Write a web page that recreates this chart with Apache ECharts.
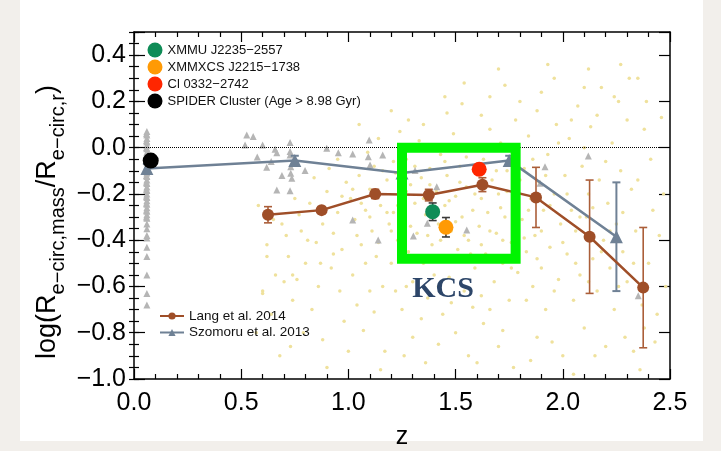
<!DOCTYPE html>
<html>
<head>
<meta charset="utf-8">
<script src="https://cdn.jsdelivr.net/npm/echarts@6/dist/echarts.min.js"></script>
<style>
  html, body { margin: 0; padding: 0; background: #f2efeb; }
  #wrap { position: relative; width: 721px; height: 451px; background: #f2efeb; }
  #panel { position: absolute; left: 20px; top: 0; width: 683px; height: 441px; background: #fff; }
  #chart { position: absolute; left: 0; top: 0; width: 721px; height: 451px; }
</style>
</head>
<body>
<div id="wrap"><div id="panel"></div><div id="chart"></div></div>
<script>
// Lang et al. 2014 (binned medians with errors)
const langZ   = [0.625, 0.875, 1.125, 1.375, 1.625, 1.875, 2.125, 2.375];
const langV   = [-0.29, -0.27, -0.20, -0.205, -0.16, -0.215, -0.385, -0.605];
const langErr = [0.035, 0.015, 0.02, 0.025, 0.03, 0.13, 0.245, 0.26];

// Szomoru et al. 2013
const szoZ   = [0.06, 0.75, 1.25, 1.75, 2.25];
const szoV   = [-0.09, -0.055, -0.11, -0.055, -0.385];
const szoErr = [0.02, 0.02, 0.02, 0.02, 0.235];

// Individual clusters
const clusterNames = ['XMMU J2235\u22122557', 'XMMXCS J2215\u22121738', 'Cl 0332\u22122742', 'SPIDER Cluster (Age > 8.98 Gyr)'];
const clusterZ     = [1.393, 1.455, 1.61, 0.078];
const clusterV     = [-0.277, -0.344, -0.093, -0.056];
const clusterErr   = [0.038, 0.042, 0, 0];
const clusterColors = ['#0f8c57', '#ff9a05', '#ff2600', '#000000'];

// KCS region
const kcsZ = [1.25, 1.78];
const kcsV = [-0.48, 0.0];

// Axis ticks
const xTicks = [0.0, 0.5, 1.0, 1.5, 2.0, 2.5];
const yTicks = [-1.0, -0.8, -0.6, -0.4, -0.2, 0.0, 0.2, 0.4];

// Individual galaxies (grey triangles)
const galaxyZ = [
  0.06,0.06,0.06,0.06,0.06,0.06,0.06,0.06,0.06,0.06,0.06,0.06,0.06,0.06,0.06,0.06,0.06,0.06,
  0.06,0.06,0.06,0.06,0.06,0.06,0.06,0.06,0.06,0.06,0.06,0.06,0.06,0.06,0.06,0.06,0.06,
  0.058,0.058,0.058,0.058,0.058,0.058,0.058,0.058,0.058,0.058,0.058,0.058,0.058,
  0.526,0.556,0.518,0.600,0.658,0.666,0.619,0.666,0.728,0.728,0.728,0.731,0.731,0.736,0.728,
  0.798,0.899,0.953,1.097,1.020,1.093,1.160,1.101,1.311,1.020,1.139,1.303,1.552,1.368,1.412,
  1.917,2.119,2.352,1.894,0.575,0.69,0.64
];
const galaxyV = [
  0.07,0.055,0.04,0.025,0.01,-0.005,-0.02,-0.035,-0.05,-0.065,-0.08,-0.095,-0.11,-0.125,-0.14,-0.155,-0.17,-0.185,
  -0.2,-0.215,-0.23,-0.245,-0.26,-0.275,-0.29,-0.305,-0.33,-0.35,-0.38,-0.39,-0.43,-0.47,-0.55,-0.63,-0.68,
  0.06,0.03,0.0,-0.03,-0.06,-0.09,-0.12,-0.15,-0.18,-0.21,-0.24,-0.27,-0.3,
  0.055,0.048,0.012,0.012,-0.007,-0.022,-0.085,-0.183,0.022,-0.017,-0.032,-0.082,-0.111,-0.132,-0.186,
  -0.099,-0.003,-0.022,0.033,-0.027,-0.039,-0.032,-0.075,-0.099,-0.313,-0.399,-0.382,-0.356,-0.327,-0.169,
  -0.082,-0.036,-0.640,-0.154,-0.04,-0.12,-0.06
];

// Background galaxy sample (pale dots)
const fieldPts = [
  [0.58,-0.25],[0.62,-0.42],[0.66,-0.55],[0.6,-0.62],[0.69,-0.33],[0.72,-0.47],[0.75,-0.22],[0.7,-0.58],[0.78,-0.36],[0.74,-0.66],[0.8,-0.5],[0.77,-0.29],[0.64,-0.72],[0.79,-0.8],[0.68,-0.9],
  [0.82,-0.24],[0.85,-0.41],[0.88,-0.33],[0.9,-0.19],[0.92,-0.52],[0.86,-0.6],[0.95,-0.28],[0.97,-0.44],[0.83,-0.7],[0.93,-0.37],[0.99,-0.15],[0.91,-0.09],[0.96,-0.62],[0.88,-0.83],[0.98,-0.75],[0.84,-0.13],
  [1.01,-0.22],[1.03,-0.31],[1.05,-0.12],[1.06,-0.42],[1.08,-0.27],[1.02,-0.55],[1.1,-0.18],[1.11,-0.36],[1.12,-0.08],[1.13,-0.47],[1.15,-0.25],[1.16,-0.6],[1.18,-0.14],[1.19,-0.33],[1.04,-0.68],[1.09,-0.02],[1.14,0.04],[1.07,-0.79],[1.17,-0.88],[1.2,-0.5],[1.12,-0.71],[1.05,0.1],
  [1.21,-0.28],[1.22,-0.11],[1.23,-0.4],[1.24,-0.2],[1.26,-0.31],[1.27,-0.05],[1.28,-0.45],[1.29,-0.16],[1.3,-0.58],[1.31,-0.24],[1.32,-0.37],[1.33,0.03],[1.34,-0.13],[1.35,-0.5],[1.36,-0.29],[1.37,-0.65],[1.38,-0.09],[1.39,-0.42],[1.25,-0.7],[1.3,-0.82],[1.36,-0.93],[1.24,0.07],[1.28,0.12],[1.22,-0.62],[1.34,-0.74],
  [1.41,-0.19],[1.42,-0.33],[1.43,-0.03],[1.44,-0.47],[1.45,-0.25],[1.46,-0.12],[1.47,-0.56],[1.48,-0.36],[1.49,0.06],[1.5,-0.21],[1.51,-0.44],[1.52,-0.08],[1.53,-0.3],[1.54,-0.62],[1.55,-0.17],[1.56,-0.4],[1.57,0.01],[1.58,-0.27],[1.59,-0.52],[1.44,-0.72],[1.5,-0.8],[1.56,-0.9],[1.46,0.15],[1.53,0.19],[1.58,-0.69],[1.42,-0.6],
  [1.61,-0.34],[1.62,-0.22],[1.63,-0.05],[1.64,-0.46],[1.65,-0.28],[1.66,0.08],[1.67,-0.14],[1.68,-0.58],[1.69,-0.37],[1.7,-0.2],[1.71,0.02],[1.72,-0.5],[1.73,-0.3],[1.74,-0.1],[1.75,-0.66],[1.76,-0.41],[1.77,-0.24],[1.78,0.12],[1.79,-0.54],[1.63,-0.76],[1.7,-0.86],[1.77,-0.95],[1.66,0.22],[1.73,0.27],[1.62,-0.64],
  [1.81,-0.31],[1.82,-0.09],[1.83,-0.45],[1.84,0.05],[1.85,-0.22],[1.86,-0.6],[1.87,-0.38],[1.88,0.16],[1.89,-0.15],[1.9,-0.52],[1.91,-0.27],[1.92,-0.7],[1.93,-0.03],[1.94,-0.43],[1.95,-0.84],[1.96,-0.2],[1.97,0.1],[1.98,-0.57],[1.99,-0.33],[1.85,-0.92],[1.9,0.24],[1.96,0.3],
  [2.01,-0.12],[2.02,-0.46],[2.03,0.04],[2.04,-0.27],[2.05,-0.66],[2.06,-0.36],[2.07,0.18],[2.08,-0.55],[2.09,-0.08],[2.1,-0.78],[2.11,-0.3],[2.12,-0.2],[2.13,0.09],[2.14,-0.48],[2.15,-0.9],[2.16,-0.62],[2.17,-0.14],[2.18,0.26],[2.19,-0.4],[2.05,-0.98],[2.12,0.34],
  [2.21,-0.24],[2.22,-0.52],[2.23,0.02],[2.24,-0.7],[2.25,-0.33],[2.26,0.2],[2.27,-0.1],[2.28,-0.45],[2.29,-0.82],[2.3,-0.58],[2.31,0.3],[2.32,-0.18],[2.34,-0.36],[2.36,-0.96],[2.38,0.08],[2.4,-0.5],[2.42,-0.27],[2.44,-0.72],[2.46,0.13],[2.48,-0.6],[2.33,-0.88],[2.27,0.36],[2.41,-0.05],[2.45,-0.38],
  [1.02,-0.18],[1.04,-0.38],[1.06,-0.24],[1.08,-0.5],[1.1,-0.3],[1.12,-0.2],[1.14,-0.41],[1.16,-0.1],[1.18,-0.28],[1.2,-0.36],[1.21,-0.06],[1.23,-0.25],[1.25,-0.43],[1.27,-0.19],[1.29,-0.34],[1.31,-0.08],[1.33,-0.47],[1.35,-0.22],[1.37,-0.38],[1.38,-0.16],
  [1.4,-0.55],[1.41,-0.29],[1.43,-0.4],[1.45,-0.06],[1.47,-0.23],[1.48,-0.49],[1.5,-0.32],[1.52,-0.15],[1.54,-0.38],[1.55,-0.04],[1.57,-0.46],[1.59,-0.2],[1.6,-0.11],[1.62,-0.42],[1.64,-0.17],[1.66,-0.36],[1.67,-0.48],[1.69,-0.1],[1.71,-0.26],[1.72,-0.4],
  [1.74,-0.19],[1.76,-0.52],[1.78,-0.34],[1.8,-0.14],[1.82,-0.39],[1.84,-0.27],[1.86,-0.05],[1.88,-0.48],[1.9,-0.36],[1.92,-0.12],[1.94,-0.25],[1.96,-0.62],[1.98,0.02],[2.0,-0.41],[2.02,-0.2],[2.04,0.12],[2.06,-0.5],[2.08,-0.3],[2.1,0.0],[2.12,-0.58],
  [2.14,-0.26],[2.16,0.14],[2.18,-0.45],[2.2,-0.06],[2.22,-0.36],[2.24,0.22],[2.26,-0.6],[2.28,-0.28],[2.3,0.12],[2.33,-0.5],[2.35,-0.14],[2.37,-0.68],[2.39,0.2],[2.43,-0.84],[2.47,-0.2],
  [0.95,-0.05],[0.97,-0.21],[0.93,-0.46],[0.89,-0.27],[0.87,-0.5],[0.81,-0.4],[0.76,-0.57],[0.71,-0.38],[0.65,-0.31],[0.62,-0.47],[0.74,-0.55],[0.6,-0.63],[0.57,-0.8],[0.73,-0.86],[0.9,-0.95],
  [1.0,-0.88],[1.15,-0.96],[1.26,-0.9],[1.42,-0.85],[1.6,-0.93],[1.72,-0.79],[1.88,-0.82],[2.0,-0.9],[2.2,-0.86],[2.38,-0.78],[1.48,-0.67],[1.66,-0.7],[1.83,-0.66],[1.27,-0.6],[1.1,-0.62],
  [1.54,0.28],[1.62,0.14],[1.8,0.2],[1.7,0.34],[1.45,0.22],[1.35,0.1],[1.2,0.16],[2.35,0.3],[2.1,0.26],[1.93,0.36]
];

const FONT = '"Liberation Sans", Arial, Helvetica, sans-serif';
const langColor = '#9f4e28';
const szoColor = '#6f8195';
const boxColor = '#00f400';

function errorBars(color, cap, width) {
  return function (params, api) {
    const z = api.value(0), lo = api.value(1), hi = api.value(2);
    const a = api.coord([z, hi]), b = api.coord([z, lo]);
    const h = cap / 2;
    const style = { stroke: color, lineWidth: width, fill: null };
    return {
      type: 'group',
      children: [
        { type: 'line', shape: { x1: a[0], y1: a[1], x2: b[0], y2: b[1] }, style },
        { type: 'line', shape: { x1: a[0] - h, y1: a[1], x2: a[0] + h, y2: a[1] }, style },
        { type: 'line', shape: { x1: b[0] - h, y1: b[1], x2: b[0] + h, y2: b[1] }, style }
      ]
    };
  };
}

const zip = (xs, ys) => xs.map((x, i) => [x, ys[i]]);
const errData = (xs, ys, es) => xs.map((x, i) => [x, ys[i] - es[i], ys[i] + es[i]]);
const fmt = v => v.toFixed(1).replace('-', '\u2212');

const baseX = {
  type: 'value', min: 0, max: 2.5, interval: 0.5,
  axisLine: { show: true, onZero: false, lineStyle: { color: '#000', width: 1.5 } },
  axisTick: { show: true, inside: true, length: 10, lineStyle: { color: '#000', width: 1.2 } },
  minorTick: { show: true, splitNumber: 5, length: 5, lineStyle: { color: '#000', width: 1.2 } },
  splitLine: { show: false }, minorSplitLine: { show: false }
};
const baseY = {
  type: 'value', min: -1.0, max: 0.5, interval: 0.2,
  axisLine: { show: true, onZero: false, lineStyle: { color: '#000', width: 1.5 } },
  axisTick: { show: true, inside: true, length: 11, lineStyle: { color: '#000', width: 1.2 } },
  splitLine: { show: false }
};
const minorY = {
  type: 'value', min: -1.0, max: 0.5, interval: 0.05,
  axisLine: { show: false },
  axisTick: { show: true, inside: true, length: 5, lineStyle: { color: '#000', width: 1.2 } },
  axisLabel: { show: false }, splitLine: { show: false }
};

const chart = echarts.init(document.getElementById('chart'), null, { renderer: 'canvas' });
chart.setOption({
  animation: false,
  backgroundColor: 'transparent',
  grid: { left: 134, right: 51, top: 32, bottom: 72, containLabel: false, outerBoundsMode: 'none' },
  xAxis: [
    Object.assign({}, baseX, {
      position: 'bottom',
      axisLabel: { show: true, margin: 12, fontSize: 25, color: '#000', fontFamily: FONT,
                   formatter: v => xTicks.some(t => Math.abs(t - v) < 1e-6) ? fmt(v) : '' },
      name: 'z', nameLocation: 'middle', nameGap: 46,
      nameTextStyle: { fontSize: 25, color: '#000', fontFamily: FONT }
    }),
    Object.assign({}, baseX, { position: 'top', axisLabel: { show: false } })
  ],
  yAxis: [
    Object.assign({}, baseY, {
      position: 'left',
      axisLabel: { show: true, margin: 8, fontSize: 25, color: '#000', fontFamily: FONT,
                   formatter: v => yTicks.some(t => Math.abs(t - v) < 1e-6) ? fmt(v) : '' }
    }),
    Object.assign({}, baseY, { position: 'right', axisLabel: { show: false } }),
    Object.assign({}, minorY, { position: 'left' }),
    Object.assign({}, minorY, { position: 'right' })
  ],
  legend: [
    {
      data: clusterNames, orient: 'vertical', left: 147.5, top: 42.5, padding: 0,
      itemWidth: 15, itemHeight: 15, itemGap: 2, icon: 'circle',
      itemStyle: { opacity: 1 },
      textStyle: { fontSize: 13, color: '#111', fontFamily: FONT }, selectedMode: false
    },
    {
      data: ['Lang et al. 2014', 'Szomoru et al. 2013'], orient: 'vertical', left: 159, top: 309, padding: 0,
      itemWidth: 24, itemHeight: 9, itemGap: 2.5,
      textStyle: { fontSize: 13.5, color: '#111', fontFamily: FONT }, selectedMode: false
    }
  ],
  graphic: [
    {
      // y-axis title with subscripts, reading bottom to top
      type: 'text', x: 51, y: 222, rotation: Math.PI / 2, silent: true,
      style: {
        text: '{m|log(R}{s|e\u2212circ,mass}{m|/R}{s|e\u2212circ,r}{m|)}',
        align: 'center', verticalAlign: 'middle',
        rich: {
          m: { fontSize: 27, fontFamily: FONT, fill: '#000', lineHeight: 34, verticalAlign: 'top' },
          s: { fontSize: 20, fontFamily: FONT, fill: '#000', lineHeight: 20, verticalAlign: 'bottom' }
        }
      }
    },
    {
      type: 'text', x: 443, y: 289, silent: true, z: 50,
      style: { text: 'KCS', font: 'bold 30px "Liberation Serif", "Times New Roman", serif',
               fill: '#2d4669', align: 'center', verticalAlign: 'middle' }
    }
  ],
  series: [
    {
      name: 'field', type: 'scatter', data: fieldPts, symbol: 'circle', symbolSize: 3.5,
      itemStyle: { color: '#efe19c', opacity: 1 }, silent: true, z: 1,
      markLine: {
        silent: true, symbol: ['none', 'none'], label: { show: false },
        lineStyle: { type: 'dotted', color: '#000', width: 1 },
        data: [{ yAxis: 0 }]
      }
    },
    {
      name: 'galaxies', type: 'scatter', data: zip(galaxyZ, galaxyV), symbol: 'triangle', symbolSize: 7,
      itemStyle: { color: '#b5b5b5', opacity: 1 }, silent: true, z: 1
    },
    {
      name: 'Szomoru et al. 2013', type: 'line', data: zip(szoZ, szoV), symbol: 'triangle', symbolSize: 13,
      itemStyle: { color: szoColor, opacity: 1 }, lineStyle: { color: szoColor, width: 2.5 }, z: 3
    },
    {
      name: 'szoErr', type: 'custom', data: errData(szoZ, szoV, szoErr), encode: { x: 0, y: [1, 2] },
      renderItem: errorBars(szoColor, 8, 2), z: 3, silent: true
    },
    {
      name: 'Lang et al. 2014', type: 'line', data: zip(langZ, langV), symbol: 'circle', symbolSize: 12,
      itemStyle: { color: langColor, opacity: 1 }, lineStyle: { color: langColor, width: 2.5 }, z: 4
    },
    {
      name: 'langErr', type: 'custom', data: errData(langZ, langV, langErr), encode: { x: 0, y: [1, 2] },
      renderItem: errorBars('#ab5e39', 8, 1.6), z: 4, silent: true
    },
    {
      name: 'kcs', type: 'custom', data: [[kcsZ[0], kcsV[0], kcsZ[1], kcsV[1]]], encode: { x: [0, 2], y: [1, 3] },
      silent: true, z: 5,
      renderItem: function (params, api) {
        const p0 = api.coord([api.value(0), api.value(3)]);
        const p1 = api.coord([api.value(2), api.value(1)]);
        return {
          type: 'rect',
          shape: { x: p0[0], y: p0[1], width: p1[0] - p0[0], height: p1[1] - p0[1] },
          style: { fill: null, stroke: boxColor, lineWidth: 10, lineJoin: 'miter' }
        };
      }
    },
    {
      name: 'clusterErr', type: 'custom',
      data: errData(clusterZ, clusterV, clusterErr).filter((d, i) => clusterErr[i] > 0),
      encode: { x: 0, y: [1, 2] }, renderItem: errorBars('#3a3a3a', 8, 1.6), z: 6, silent: true
    }
  ].concat(clusterNames.map((n, i) => ({
    name: n, type: 'scatter', data: [[clusterZ[i], clusterV[i]]], symbol: 'circle',
    symbolSize: i === 3 ? 16 : 15, itemStyle: { color: clusterColors[i], opacity: 1 }, z: 7
  })))
});
</script>
</body>
</html>
